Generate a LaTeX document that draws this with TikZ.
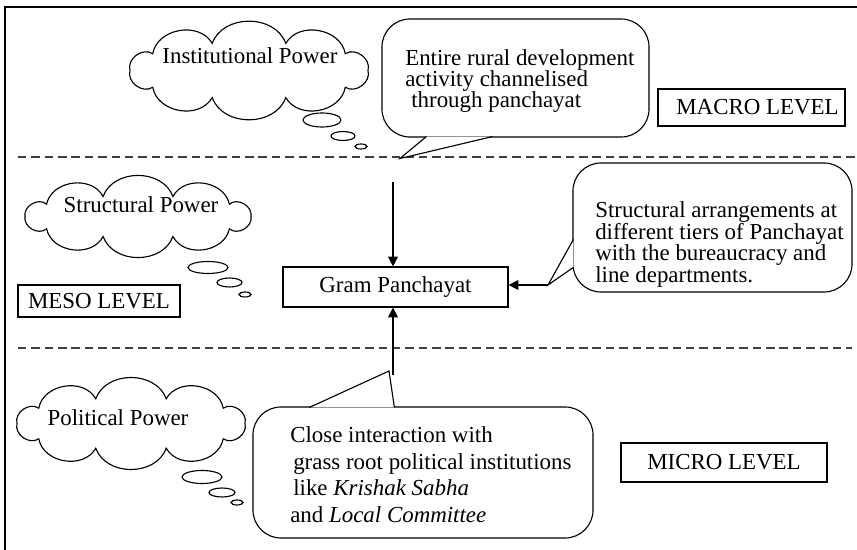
\documentclass[tikz,border=0pt]{standalone}
\usepackage{fontspec}
\setmainfont{Liberation Serif}
\usetikzlibrary{arrows.meta,calc}
\newcommand{\tightlines}{\lineskiplimit=-20pt\relax}

\begin{document}
\begin{tikzpicture}[
  x=0.025cm, y=-0.025cm,
  >={Triangle[length=7pt,width=7pt]},
  every node/.style={font=\fontsize{16.3}{19}\selectfont},
  frame/.style={line width=0.8pt},
  divider/.style={line width=0.8pt, black!75, dash pattern=on 6pt off 3.5pt},
  puff/.style={draw, line width=0.8pt},
  puffarc/.style={bend left=70, looseness=1.1},
  level/.style={draw, line width=0.8pt, inner sep=0},
  notebox/.style={draw, line width=0.8pt, rounded corners=0.7cm, fill=white, inner sep=0},
  tipline/.style={draw, line width=0.8pt, fill=white},
  notetext/.style={anchor=north west, inner sep=0, align=left},
  arr/.style={->, line width=0.8pt}
]
  \useasboundingbox (0,0) rectangle (857,550);

  % frame and level dividers
  \draw[frame] (5,550) -- (5,7) -- (857,7);
  \draw[divider] (18,157) -- (857,157);
  \draw[divider] (18,348) -- (852,348);

  % Macro level
  \coordinate (instcloud) at (249,70.5);
  \draw[puff] ($(instcloud)+(0:119 and 28.5)$)
    \foreach \k in {1,...,10} { to[puffarc] ($(instcloud)+(\k*36:119 and 28.5)$) } -- cycle;
  \node (insttext) at (250,56) {Institutional Power};
  \draw[puff] (322,120) ellipse [x radius=19, y radius=7];
  \draw[puff] (343,136) ellipse [x radius=12, y radius=4.5];
  \draw[puff] (361,146.5) ellipse [x radius=6, y radius=2.5];

  \node[notebox, minimum width=6.675cm, minimum height=2.95cm] (topbox) at (515.5,78) {};
  \coordinate (toptip) at (400,158.5);
  \filldraw[tipline] ($(topbox.south west)+(45,-1)$) -- (toptip) -- ($(topbox.south west)+(111,-1)$);
  \node[notetext, font=\fontsize{16.3}{14.8}\selectfont\tightlines] (toptext) at (405,49.3)
    {Entire rural development\\activity channelised\\\hspace*{0.15cm}through panchayat};

  \node[level, minimum width=4.675cm, minimum height=0.925cm] (macro) at (751.5,107.5) {\hspace*{0.3cm}MACRO LEVEL};

  % Meso level
  \coordinate (structcloud) at (138,216.5);
  \draw[puff] ($(structcloud)+(0:113 and 21)$)
    \foreach \k in {1,...,10} { to[puffarc] ($(structcloud)+(\k*36:113 and 21)$) } -- cycle;
  \node (structtext) at (141,205) {Structural Power};
  \draw[puff] (208,267.5) ellipse [x radius=20, y radius=6];
  \draw[puff] (229.5,282.5) ellipse [x radius=12.5, y radius=4.5];
  \draw[puff] (245,294.5) ellipse [x radius=6, y radius=2.5];

  \node[level, minimum width=4.05cm, minimum height=0.8cm] (meso) at (99,301) {MESO LEVEL};

  \node[level, minimum width=5.625cm, minimum height=1cm] (gp) at (395.5,287) {Gram Panchayat};

  \node[notebox, minimum width=6.975cm, minimum height=3.225cm] (rightbox) at (712.5,227.5) {};
  \coordinate (righttip) at (548,285);
  \filldraw[tipline] ($(rightbox.north west)+(1,77)$) -- (righttip) -- ($(rightbox.north west)+(1,105)$);
  \node[notetext, font=\fontsize{16.3}{15.4}\selectfont\tightlines] (righttext) at (595,201.3)
    {Structural arrangements at\\different tiers of Panchayat\\with the bureaucracy and\\line departments.};

  % Micro level
  \coordinate (polcloud) at (131,423.5);
  \draw[puff] ($(polcloud)+(0:114 and 26)$)
    \foreach \k in {1,...,10} { to[puffarc] ($(polcloud)+(\k*36:114 and 26)$) } -- cycle;
  \node (poltext) at (118,418) {Political Power};
  \draw[puff] (202,477) ellipse [x radius=20, y radius=6.5];
  \draw[puff] (222,492.5) ellipse [x radius=13, y radius=4.5];
  \draw[puff] (237,502.5) ellipse [x radius=6, y radius=2.5];

  \node[notebox, minimum width=8.5cm, minimum height=3.275cm] (botbox) at (423,472.5) {};
  \coordinate (bottip) at (389,371);
  \filldraw[tipline] ($(botbox.north west)+(57,1)$) -- (bottip) -- ($(botbox.north west)+(142,1)$);
  \node[notetext, font=\fontsize{16.3}{19}\selectfont\tightlines] (bottext) at (290,426.3)
    {Close interaction with\\\hspace*{0.075cm}grass root political institutions\\\hspace*{0.075cm}like \textit{Krishak Sabha}\\and \textit{Local Committee}};

  \node[level, minimum width=5.15cm, minimum height=0.975cm] (micro) at (724,462.5) {MICRO LEVEL};

  % arrows into Gram Panchayat
  \coordinate (topfoot) at (393,182);
  \coordinate (botfoot) at (393,375);
  \draw[arr] (topfoot) -- (topfoot |- gp.north);
  \draw[arr] (botfoot) -- (botfoot |- gp.south);
  \draw[arr] (righttip) -- (righttip -| gp.east);
\end{tikzpicture}
\end{document}
